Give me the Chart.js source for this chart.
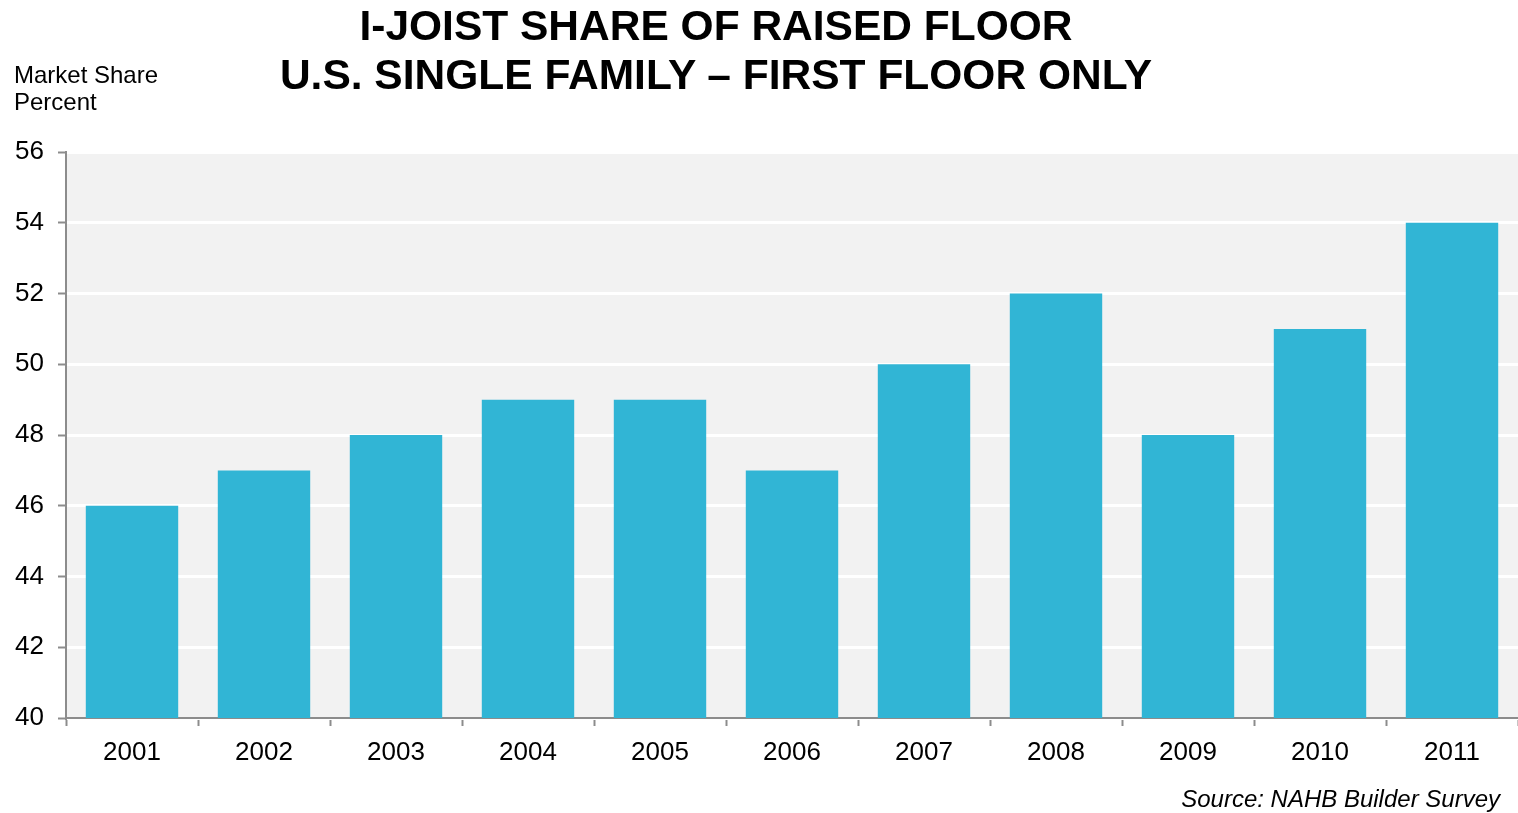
<!DOCTYPE html>
<html>
<head>
<meta charset="utf-8">
<script src="https://cdn.jsdelivr.net/npm/chart.js@4"></script>
<style>
  html, body { margin: 0; padding: 0; background: #fff; }
  #wrap { position: relative; width: 1518px; height: 813px; font-family: "Liberation Sans", Arial, sans-serif; }
  #title { position: absolute; left: 0; width: 1432px; top: 1px; text-align: center; font-weight: bold; font-size: 42.5px; line-height: 49px; color: #000; }
  #ylabel { position: absolute; left: 14px; top: 61px; font-size: 24px; line-height: 27px; color: #000; }
  #source { position: absolute; right: 18px; top: 785px; font-size: 24px; font-style: italic; color: #000; }
  canvas { position: absolute; left: 0; top: 0; }
</style>
</head>
<body>
<div id="wrap">
  <canvas id="chart" width="1518" height="813"></canvas>
  <div id="title">I-JOIST SHARE OF RAISED FLOOR<br>U.S. SINGLE FAMILY – FIRST FLOOR ONLY</div>
  <div id="ylabel">Market Share<br>Percent</div>
  <div id="source">Source: NAHB Builder Survey</div>
</div>
<script>
// chart data
const years = ["2001", "2002", "2003", "2004", "2005", "2006", "2007", "2008", "2009", "2010", "2011"];
const shareValues = [46, 47, 48, 49, 49, 47, 50, 52, 48, 51, 54];
const yMin = 40;
const yMax = 56;
const yStep = 2;

// grey plot background
const plotBackground = {
  id: "plotBackground",
  beforeDraw(chart) {
    const { ctx, chartArea } = chart;
    ctx.save();
    ctx.fillStyle = "#f2f2f2";
    ctx.fillRect(chartArea.left, chartArea.top, chartArea.right - chartArea.left, chartArea.bottom - chartArea.top);
    ctx.restore();
  }
};

const family = "'Liberation Sans', Arial, sans-serif";

new Chart(document.getElementById("chart"), {
  type: "bar",
  data: {
    labels: years,
    datasets: [{
      label: "Market Share",
      data: shareValues,
      backgroundColor: "#31b5d5",
      borderWidth: 0,
      barPercentage: 0.7,
      categoryPercentage: 1
    }]
  },
  options: {
    responsive: false,
    animation: false,
    layout: { padding: { top: 152, bottom: 40, left: 0, right: 0 } },
    plugins: {
      legend: { display: false },
      title: { display: false },
      tooltip: { enabled: false }
    },
    scales: {
      x: {
        offset: true,
        grid: {
          offset: true,
          drawOnChartArea: false,
          tickColor: "#8c8c8c",
          tickLength: 8,
          tickWidth: 2
        },
        border: { color: "#8c8c8c", width: 2 },
        ticks: { color: "#000", font: { family: family, size: 26 }, padding: 11, maxRotation: 0 },
        afterFit(scale) { scale.height = 55; }
      },
      y: {
        min: yMin,
        max: yMax,
        grid: {
          color: "#ffffff",
          lineWidth: 3,
          tickColor: "#8c8c8c",
          tickLength: 8,
          tickWidth: 2
        },
        border: { color: "#8c8c8c", width: 2 },
        ticks: { stepSize: yStep, color: "#000", font: { family: family, size: 26 }, padding: 14 },
        afterFit(scale) { scale.width = 66; }
      }
    }
  },
  plugins: [plotBackground]
});
</script>
</body>
</html>
